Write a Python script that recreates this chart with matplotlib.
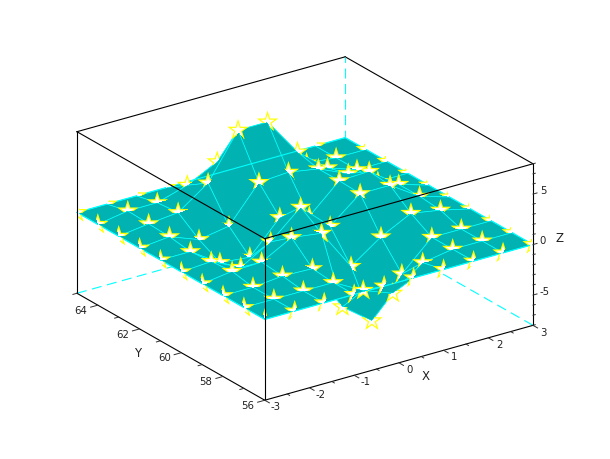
import numpy as np
import matplotlib
matplotlib.use('Agg')
import matplotlib.pyplot as plt
from matplotlib.patches import PathPatch
from matplotlib.path import Path
from matplotlib.transforms import IdentityTransform
from mpl_toolkits.mplot3d import proj3d

# grid values
x_vals = [-3.0, -2.33, -1.67, -1.0, -0.33, 0.33, 1.0, 1.67, 2.33, 3.0]
y_vals = [56, 57, 58, 59, 60, 61, 62, 63, 64, 65]

# z, one list per x value
z_0 = [0, 0, 0, 0, 0, 0, 0, 0, 0, 0]
z_1 = [0, 0, 0, 0.4, 0.2, 0, 0.3, 0.4, 0.5, 0]
z_2 = [0, 0, 0.3, 0.5, -1.2, -1.9, -0.8, 0.7, 0.5, 0]
z_3 = [0, 0, 0.2, 2.1, 0.5, -2.2, -0.3, 2.8, 1.4, 0]
z_4 = [0, -1.6, -4.4, 1.7, 3.1, 0.9, 3.2, 7.2, 2.9, 0]
z_5 = [0, -2.7, -6.6, -2.4, 0.4, 0.2, 3.4, 7.2, 3.0, 0]
z_6 = [0, -0.5, -2.8, -0.3, 2.8, 2.9, 2.9, 3.4, 0.5, 0]
z_7 = [0, 0, 0, 1.2, 2.8, 3.0, 1.6, 1.0, 0.3, 0]
z_8 = [0, 0, 0, 0.7, 0.9, 0.9, 0, 0, 0, 0]
z_9 = [0, 0, 0, 0, 0, 0, 0, 0, 0, 0]

x_major = [-3, -2, -1, 0, 1, 2, 3]
x_minor = [-2.5, -1.5, -0.5, 0.5, 1.5, 2.5]
y_major = [56, 58, 60, 62, 64]
y_minor = [57, 59, 61, 63, 65]
z_major = [-5, 0, 5]
z_minor = [-8, -7, -6, -4, -3, -2, -1, 1, 2, 3, 4, 6, 7, 8]

XMIN, XMAX = -3, 3
YMIN, YMAX = 56, 65
ZMIN, ZMAX = -8, 8
BOX = (329, 329, 177)
ELEV, AZIM = 23.5, -125
W, H = 610, 460
SIDE = 620
TEAL = '#00b2b2'
CYAN = '#00ffff'

fig = plt.figure(figsize=(W / 100, H / 100), dpi=100)


def make_axes(zorder):
    a = fig.add_axes([-13.4 / W, -87.9 / H, SIDE / W, SIDE / H], projection='3d')
    a.set_proj_type('ortho')
    a.view_init(elev=ELEV, azim=AZIM)
    a.set_box_aspect(BOX, zoom=481 / SIDE)
    a.set_xlim(XMIN, XMAX)
    a.set_ylim(YMIN, YMAX)
    a.set_zlim(ZMIN, ZMAX)
    a.set_xticks([])
    a.set_yticks([])
    a.set_zticks([])
    a.set_axis_off()
    a.patch.set_alpha(0)
    a.computed_zorder = False
    a.set_zorder(zorder)
    return a


ax = make_axes(0)
ax_front = make_axes(2)


def edge(a, p, q, **kw):
    a.plot([p[0], q[0]], [p[1], q[1]], [p[2], q[2]], zorder=1, **kw)


# 뒤쪽 상자
black = dict(color='black', lw=0.8)
dashed = dict(color=CYAN, lw=0.8, dashes=(9, 5))
edge(ax, (XMIN, YMAX, ZMAX), (XMAX, YMAX, ZMAX), **black)
edge(ax, (XMAX, YMIN, ZMAX), (XMAX, YMAX, ZMAX), **black)
edge(ax, (XMIN, YMAX, ZMIN), (XMAX, YMAX, ZMIN), **dashed)
edge(ax, (XMAX, YMIN, ZMIN), (XMAX, YMAX, ZMIN), **dashed)
edge(ax, (XMAX, YMAX, ZMIN), (XMAX, YMAX, ZMAX), **dashed)

# 표면
X, Y = np.meshgrid(x_vals, y_vals, indexing='ij')
Z = np.array([z_0, z_1, z_2, z_3, z_4, z_5, z_6, z_7, z_8, z_9], dtype=float)
ax.plot_surface(X, Y, Z, rstride=1, cstride=1, color=TEAL, edgecolor=CYAN,
                linewidth=0.5, shade=False, antialiased=True, zorder=2)

# 표면 테두리
rim = dict(color=CYAN, lw=0.8, zorder=3)
ax.plot(X[:, 0], Y[:, 0], Z[:, 0], **rim)
ax.plot(X[:, -1], Y[:, -1], Z[:, -1], **rim)
ax.plot(X[0, :], Y[0, :], Z[0, :], **rim)
ax.plot(X[-1, :], Y[-1, :], Z[-1, :], **rim)

# 앞쪽 상자
edge(ax_front, (XMIN, YMAX, ZMIN), (XMIN, YMAX, ZMAX), **black)
edge(ax_front, (XMAX, YMIN, ZMIN), (XMAX, YMIN, ZMAX), **black)
edge(ax_front, (XMIN, YMIN, ZMIN), (XMIN, YMIN, ZMAX), **black)
edge(ax_front, (XMIN, YMIN, ZMAX), (XMIN, YMAX, ZMAX), **black)
edge(ax_front, (XMIN, YMIN, ZMAX), (XMAX, YMIN, ZMAX), **black)
edge(ax_front, (XMIN, YMIN, ZMIN), (XMIN, YMAX, ZMIN), **black)
edge(ax_front, (XMIN, YMIN, ZMIN), (XMAX, YMIN, ZMIN), **black)

# 눈금
tick = dict(color='#303030', lw=0.7)
for v, n in [(v, 0.22) for v in x_major] + [(v, 0.12) for v in x_minor]:
    edge(ax_front, (v, YMIN, ZMIN), (v, YMIN - n, ZMIN), **tick)
for v, n in [(v, 0.16) for v in y_major] + [(v, 0.09) for v in y_minor]:
    edge(ax_front, (XMIN, v, ZMIN), (XMIN - n, v, ZMIN), **tick)
for v, n in [(v, 0.09) for v in z_major] + [(v, 0.05) for v in z_minor]:
    edge(ax_front, (XMAX, YMIN, v), (XMAX + n, YMIN, v), **tick)

fig.canvas.draw()
M = ax.get_proj()


def to_pixels(xs, ys, zs):
    px, py, _ = proj3d.proj_transform(np.asarray(xs, float), np.asarray(ys, float),
                                      np.asarray(zs, float), M)
    return ax.transData.transform(np.column_stack([px, py]))


def label_at(x, y, z, s, **kw):
    p = to_pixels([x], [y], [z])[0]
    fig.text(p[0] / W, p[1] / H, s, color='#202020', zorder=3, **kw)


for v in x_major:
    label_at(v, YMIN - 0.52, ZMIN, str(v), fontsize=7.3, ha='center', va='center')
for v in y_major:
    label_at(XMIN - 0.38, v, ZMIN, str(v), fontsize=7.3, ha='center', va='center')
for v in z_major:
    label_at(XMAX + 0.15, YMIN, v + 0.25, str(v), fontsize=7.3, ha='left', va='center')

label_at(0.08, 54.87, ZMIN, 'X', fontsize=8.5, ha='center', va='center')
label_at(-3.66, 60.7, ZMIN, 'Y', fontsize=8.5, ha='center', va='center')
label_at(3.6, YMIN, 0, 'Z', fontsize=8.5, ha='center', va='center')

# 별표: 표면 앞에 있는 픽셀만 보이도록 깊이 버퍼 계산
pix = to_pixels(X.ravel(), Y.ravel(), Z.ravel()).reshape(10, 10, 2)

el, az = np.radians(ELEV), np.radians(AZIM)
view = np.array([np.cos(el) * np.cos(az), np.cos(el) * np.sin(az), np.sin(el)])
right = np.array([-np.sin(az), np.cos(az), 0])
up = np.array([-np.sin(el) * np.cos(az), -np.sin(el) * np.sin(az), np.cos(el)])

# 상자 좌표 (단위: 픽셀)
bx = (X - XMIN) / (XMAX - XMIN) * BOX[0]
by = (Y - YMIN) / (YMAX - YMIN) * BOX[1]
bz = (Z - ZMIN) / (ZMAX - ZMIN) * BOX[2]
near = bx * view[0] + by * view[1] + bz * view[2]

buf = np.full((H, W), -np.inf)
yy, xx = np.mgrid[0:H, 0:W]
xx = xx + 0.5
yy = yy + 0.5


def fill_triangle(a, b, c):
    (ax0, ay0), (bx0, by0), (cx0, cy0) = pix[a], pix[b], pix[c]
    det = (by0 - cy0) * (ax0 - cx0) + (cx0 - bx0) * (ay0 - cy0)
    if abs(det) < 1e-9:
        return
    x0 = max(int(min(ax0, bx0, cx0)), 0)
    x1 = min(int(max(ax0, bx0, cx0)) + 2, W)
    y0 = max(int(min(ay0, by0, cy0)), 0)
    y1 = min(int(max(ay0, by0, cy0)) + 2, H)
    sx, sy = xx[y0:y1, x0:x1], yy[y0:y1, x0:x1]
    l1 = ((by0 - cy0) * (sx - cx0) + (cx0 - bx0) * (sy - cy0)) / det
    l2 = ((cy0 - ay0) * (sx - cx0) + (ax0 - cx0) * (sy - cy0)) / det
    l3 = 1 - l1 - l2
    inside = (l1 >= 0) & (l2 >= 0) & (l3 >= 0)
    d = l1 * near[a] + l2 * near[b] + l3 * near[c]
    part = buf[y0:y1, x0:x1]
    part[inside] = np.maximum(part[inside], d[inside])


for i in range(9):
    for j in range(9):
        fill_triangle((i, j), (i + 1, j), (i + 1, j + 1))
        fill_triangle((i, j), (i + 1, j + 1), (i, j + 1))

R_OUT = 11.3
R_IN = 7.4
angles = np.pi / 2 + np.arange(10) * np.pi / 5
radii = np.where(np.arange(10) % 2 == 0, 1, 0.382)
star_x = radii * np.cos(angles)
star_y = radii * np.sin(angles)
codes = [Path.MOVETO] + [Path.LINETO] * 9 + [Path.CLOSEPOLY]


def star_path(cx, cy, r):
    verts = np.column_stack([star_x * r + cx, star_y * r + cy])
    return Path(np.vstack([verts, verts[0]]), codes)


for i in range(10):
    for j in range(10):
        cx, cy = pix[i, j]

        # 보이는 픽셀을 행 단위 사각형으로 묶어 clip path 생성
        clip_v, clip_c = [], []
        x0 = max(int(cx - R_OUT - 3), 0)
        x1 = min(int(cx + R_OUT + 3), W)
        for row in range(max(int(cy - R_OUT - 3), 0), min(int(cy + R_OUT + 3), H)):
            vis = near[i, j] + 0.5 >= buf[row, x0:x1]
            # 상자 밖으로 나가는 부분은 잘림
            u = xx[row, x0:x1] - cx
            w = yy[row, x0:x1] - cy
            p0 = bx[i, j] + u * right[0] + w * up[0]
            p1 = by[i, j] + u * right[1] + w * up[1]
            vis = vis & (p0 >= 0) & (p0 <= BOX[0]) & (p1 >= 0) & (p1 <= BOX[1])
            edges = np.flatnonzero(np.diff(np.r_[0, vis.astype(int), 0]))
            for s, e in zip(edges[::2], edges[1::2]):
                clip_v += [(x0 + s, row), (x0 + e, row), (x0 + e, row + 1),
                           (x0 + s, row + 1), (x0 + s, row)]
                clip_c += [Path.MOVETO, Path.LINETO, Path.LINETO, Path.LINETO, Path.CLOSEPOLY]
        if not clip_v:
            continue
        clip = Path(clip_v, clip_c)

        for r, c in [(R_OUT, '#ffff00'), (R_IN, 'white')]:
            star = PathPatch(star_path(cx, cy, r), facecolor=c, edgecolor='none', lw=0,
                             transform=IdentityTransform(), zorder=1)
            star.set_clip_path(clip, IdentityTransform())
            fig.add_artist(star)

fig.savefig('out.png', dpi=100)
